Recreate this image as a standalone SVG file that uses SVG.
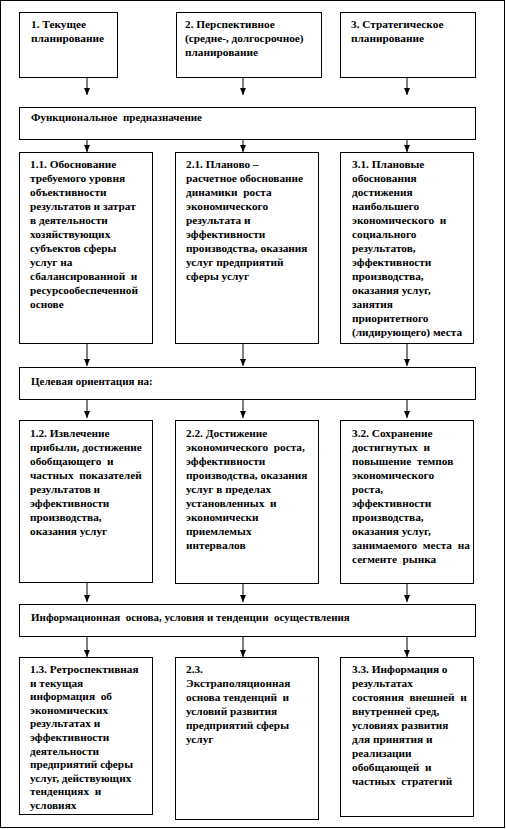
<svg xmlns="http://www.w3.org/2000/svg" width="506" height="830" viewBox="0 0 506 830">
<style>
.bx{fill:#fff;stroke:#000;stroke-width:1}
.t{font-family:'Liberation Serif','DejaVu Serif','Times New Roman',serif;font-size:11.3px;font-weight:bold;fill:#000;white-space:pre}
.w{font-size:11px}
.c{stroke:#000;stroke-width:1;fill:none;marker-end:url(#ah)}
</style>
<defs>
<marker id="ah" markerUnits="userSpaceOnUse" markerWidth="8" markerHeight="8" viewBox="0 0 8 8" refX="7" refY="4" orient="auto">
<path d="M0,1 L7,4 L0,7 Z" fill="#000"/>
</marker>
</defs>
<rect x="0.5" y="0.5" width="504" height="827" fill="#fff" stroke="#000"/>
<g id="connectors">
<path class="c" d="M87,77 V95"/><path class="c" d="M243,77 V95"/><path class="c" d="M407,77 V95"/>
<path class="c" d="M87,139 V152"/><path class="c" d="M243,139 V152"/><path class="c" d="M407,139 V152"/>
<path class="c" d="M87,343 V366"/><path class="c" d="M243,344 V366"/><path class="c" d="M407,343 V366"/>
<path class="c" d="M87,399 V418"/><path class="c" d="M243,399 V418"/><path class="c" d="M407,399 V418"/>
<path class="c" d="M87,582 V602"/><path class="c" d="M243,583 V602"/><path class="c" d="M407,583 V602"/>
<path class="c" d="M87,636 V657"/><path class="c" d="M243,636 V657"/><path class="c" d="M407,636 V657"/>
</g>
<g id="n1"><rect class="bx" x="19.5" y="12.5" width="98" height="65"/>
<text class="t" y="28"><tspan x="31">1. Текущее</tspan><tspan x="31" dy="14">планирование</tspan></text></g>
<g id="n2"><rect class="bx" x="176.5" y="12.5" width="145" height="65"/>
<text class="t" y="28"><tspan x="185">2. Перспективное</tspan><tspan x="185" dy="14">(средне-, долгосрочное)</tspan><tspan x="185" dy="14">планирование</tspan></text></g>
<g id="n3"><rect class="bx" x="340.5" y="12.5" width="135" height="65"/>
<text class="t" y="28"><tspan x="351">3. Стратегическое</tspan><tspan x="351" dy="14">планирование</tspan></text></g>
<g id="w1"><rect class="bx" x="19.5" y="107.5" width="456" height="32"/>
<text class="t w" x="31" y="121">Функциональное  предназначение</text></g>
<g id="n11"><rect class="bx" x="19.5" y="152.5" width="133" height="191"/>
<text class="t" y="168"><tspan x="30">1.1. Обоснование</tspan><tspan x="30" dy="14">требуемого уровня</tspan><tspan x="30" dy="14">объективности</tspan><tspan x="30" dy="14">результатов и затрат</tspan><tspan x="30" dy="14">в деятельности</tspan><tspan x="30" dy="14">хозяйствующих</tspan><tspan x="30" dy="14">субъектов сферы</tspan><tspan x="30" dy="14">услуг на</tspan><tspan x="30" dy="14">сбалансированной  и</tspan><tspan x="30" dy="14">ресурсообеспеченной</tspan><tspan x="30" dy="14">основе</tspan></text></g>
<g id="n21"><rect class="bx" x="175.5" y="152.5" width="143" height="191"/>
<text class="t" y="168"><tspan x="186">2.1. Планово –</tspan><tspan x="186" dy="14">расчетное обоснование</tspan><tspan x="186" dy="14">динамики  роста</tspan><tspan x="186" dy="14">экономического</tspan><tspan x="186" dy="14">результата и</tspan><tspan x="186" dy="14">эффективности</tspan><tspan x="186" dy="14">производства, оказания</tspan><tspan x="186" dy="14">услуг предприятий</tspan><tspan x="186" dy="14">сферы услуг</tspan></text></g>
<g id="n31"><rect class="bx" x="340.5" y="152.5" width="133" height="191"/>
<text class="t" y="168"><tspan x="352">3.1. Плановые</tspan><tspan x="352" dy="14">обоснования</tspan><tspan x="352" dy="14">достижения</tspan><tspan x="352" dy="14">наибольшего</tspan><tspan x="352" dy="14">экономического  и</tspan><tspan x="352" dy="14">социального</tspan><tspan x="352" dy="14">результатов,</tspan><tspan x="352" dy="14">эффективности</tspan><tspan x="352" dy="14">производства,</tspan><tspan x="352" dy="14">оказания услуг,</tspan><tspan x="352" dy="14">занятия</tspan><tspan x="352" dy="14">приоритетного</tspan><tspan x="352" dy="14">(лидирующего) места</tspan></text></g>
<g id="w2"><rect class="bx" x="19.5" y="367.5" width="456" height="32"/>
<text class="t w" x="31" y="385">Целевая ориентация на:</text></g>
<g id="n12"><rect class="bx" x="19.5" y="420.5" width="133" height="162"/>
<text class="t" y="437"><tspan x="30">1.2. Извлечение</tspan><tspan x="30" dy="14">прибыли, достижение</tspan><tspan x="30" dy="14">обобщающего  и</tspan><tspan x="30" dy="14">частных  показателей</tspan><tspan x="30" dy="14">результатов и</tspan><tspan x="30" dy="14">эффективности</tspan><tspan x="30" dy="14">производства,</tspan><tspan x="30" dy="14">оказания услуг</tspan></text></g>
<g id="n22"><rect class="bx" x="175.5" y="420.5" width="143" height="163"/>
<text class="t" y="437"><tspan x="186">2.2. Достижение</tspan><tspan x="186" dy="14">экономического  роста,</tspan><tspan x="186" dy="14">эффективности</tspan><tspan x="186" dy="14">производства, оказания</tspan><tspan x="186" dy="14">услуг в пределах</tspan><tspan x="186" dy="14">установленных  и</tspan><tspan x="186" dy="14">экономически</tspan><tspan x="186" dy="14">приемлемых</tspan><tspan x="186" dy="14">интервалов</tspan></text></g>
<g id="n32"><rect class="bx" x="340.5" y="420.5" width="133" height="163"/>
<text class="t" y="437"><tspan x="352">3.2. Сохранение</tspan><tspan x="352" dy="14">достигнутых  и</tspan><tspan x="352" dy="14">повышение  темпов</tspan><tspan x="352" dy="14">экономического</tspan><tspan x="352" dy="14">роста,</tspan><tspan x="352" dy="14">эффективности</tspan><tspan x="352" dy="14">производства,</tspan><tspan x="352" dy="14">оказания услуг,</tspan><tspan x="352" dy="14">занимаемого  места  на</tspan><tspan x="352" dy="14">сегменте  рынка</tspan></text></g>
<g id="w3"><rect class="bx" x="19.5" y="604.5" width="456" height="32"/>
<text class="t w" x="31" y="621">Информационная  основа, условия и тенденции  осуществления</text></g>
<g id="n13"><rect class="bx" x="19.5" y="657.5" width="133" height="157"/>
<text class="t" y="673"><tspan x="30">1.3. Ретроспективная</tspan><tspan x="30" dy="13.6">и текущая</tspan><tspan x="30" dy="13.6">информация  об</tspan><tspan x="30" dy="13.6">экономических</tspan><tspan x="30" dy="13.6">результатах и</tspan><tspan x="30" dy="13.6">эффективности</tspan><tspan x="30" dy="13.6">деятельности</tspan><tspan x="30" dy="13.6">предприятий сферы</tspan><tspan x="30" dy="13.6">услуг, действующих</tspan><tspan x="30" dy="13.6">тенденциях  и</tspan><tspan x="30" dy="13.6">условиях</tspan></text></g>
<g id="n23"><rect class="bx" x="175.5" y="657.5" width="143" height="162"/>
<text class="t" y="673"><tspan x="186">2.3.</tspan><tspan x="186" dy="14">Экстраполяционная</tspan><tspan x="186" dy="14">основа тенденций  и</tspan><tspan x="186" dy="14">условий развития</tspan><tspan x="186" dy="14">предприятий сферы</tspan><tspan x="186" dy="14">услуг</tspan></text></g>
<g id="n33"><rect class="bx" x="340.5" y="657.5" width="133" height="159"/>
<text class="t" y="673"><tspan x="352">3.3. Информация о</tspan><tspan x="352" dy="14">результатах</tspan><tspan x="352" dy="14">состояния  внешней  и</tspan><tspan x="352" dy="14">внутренней сред,</tspan><tspan x="352" dy="14">условиях развития</tspan><tspan x="352" dy="14">для принятия и</tspan><tspan x="352" dy="14">реализации</tspan><tspan x="352" dy="14">обобщающей  и</tspan><tspan x="352" dy="14">частных  стратегий</tspan></text></g>
</svg>
